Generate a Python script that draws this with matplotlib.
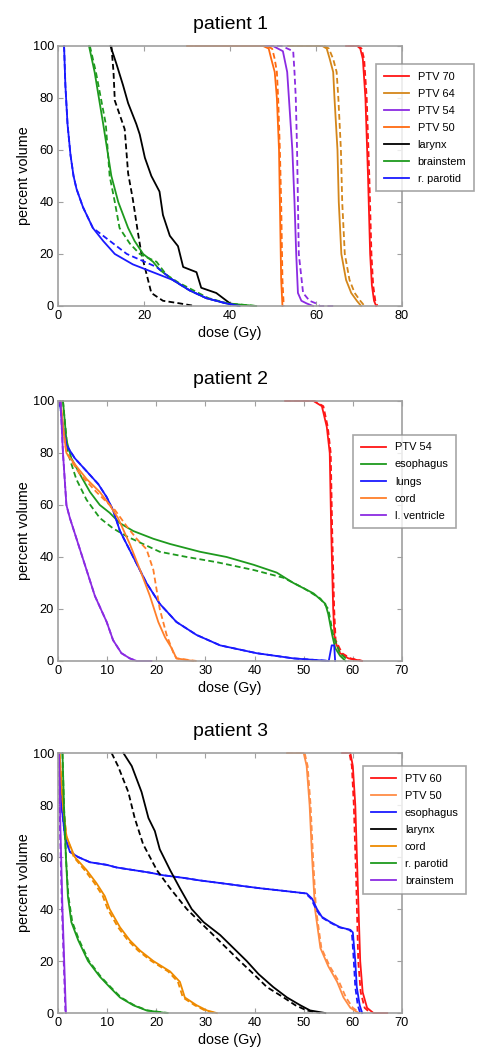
import matplotlib
matplotlib.use("Agg")
import matplotlib.pyplot as plt

plt.rcParams['font.family'] = ['Liberation Sans', 'DejaVu Sans']

# ---- patient 1 : [dose], [volume]  (solid = plan A, dashed = plan B)
p1_ptv70 = [[67.0, 69.6, 70.3, 70.9, 71.5, 72.1, 72.6, 73.0, 73.5, 74.0], [100, 100, 99, 95, 80, 50, 20, 8, 2, 0]]
p1_ptv70_b = [[67.5, 69.9, 70.6, 71.2, 71.8, 72.4, 72.9, 73.3, 73.8, 74.3], [100, 100, 99, 95, 80, 50, 20, 8, 2, 0]]
p1_ptv64 = [[53.5, 61.5, 62.5, 63.2, 64.0, 64.3, 65.0, 65.3, 65.9, 67.0, 68.2, 69.5, 70.5],
            [100, 100, 99, 95, 90, 80, 60, 40, 20, 10, 5, 2, 0]]
p1_ptv64_b = [[53.5, 62.0, 63.0, 64.0, 64.8, 65.2, 65.8, 66.1, 66.7, 67.8, 69.0, 70.3, 71.3],
              [100, 100, 99, 95, 90, 80, 60, 40, 20, 10, 5, 2, 0]]
p1_ptv54 = [[32.0, 50.0, 52.3, 53.3, 53.7, 54.5, 55.0, 55.4, 55.8, 56.6, 57.8, 59.3],
            [100, 100, 98, 90, 80, 60, 40, 20, 5, 2, 1, 0]]
p1_ptv54_b = [[32.0, 52.0, 54.7, 55.0, 55.3, 55.6, 55.8, 56.0, 57.0, 58.5, 60.0, 60.9, 64.0],
              [100, 100, 98, 90, 80, 60, 40, 20, 5, 2, 1, 0, 0]]
p1_ptv50 = [[30.0, 47.7, 49.0, 49.6, 50.4, 50.9, 51.4, 51.6, 51.9, 52.2],
            [100, 100, 99, 95, 90, 80, 60, 40, 10, 0]]
p1_ptv50_b = [[30.0, 48.5, 49.8, 50.4, 50.9, 51.2, 51.6, 51.9, 52.2, 52.5],
              [100, 100, 99, 95, 90, 80, 60, 40, 10, 0]]
p1_larynx = [[12.2, 13.6, 15.1, 16.3, 18.2, 19.0, 20.2, 21.7, 23.6, 24.4, 26.0, 27.9, 29.1, 32.2, 33.3, 36.8, 38.4, 40.0, 42.2],
             [100, 93, 85, 78, 70, 66, 57, 50, 44, 35, 27, 23, 15, 13, 7, 5, 3, 1, 0]]
p1_larynx_b = [[12.4, 12.9, 13.2, 15.5, 16.3, 17.4, 18.6, 19.4, 21.7, 24.4, 28.3, 31.8],
               [100, 90, 79, 68, 51, 41, 28, 20, 5, 2, 1, 0]]
p1_brainstem = [[7.2, 8.5, 10.5, 12.4, 14.0, 16.3, 17.8, 19.8, 22.1, 23.6, 26.7, 30.6, 34.5, 39.1, 46.1],
                [100, 90, 70, 50, 40, 30, 25, 20, 17, 14, 10, 6, 3, 1, 0]]
p1_brainstem_b = [[7.4, 8.8, 11.1, 12.0, 13.2, 14.3, 16.7, 19.0, 22.9, 25.2, 28.0, 31.5, 35.0, 39.5, 46.0],
                  [100, 90, 70, 50, 40, 30, 24, 20, 17, 12, 9, 6, 3, 1, 0]]
p1_parotid = [[1.4, 1.7, 2.2, 2.9, 3.6, 4.3, 5.8, 8.1, 10.5, 13.2, 17.4, 20.5, 23.6, 26.7, 30.6, 34.5, 39.1, 42.2],
              [100, 85, 70, 58, 50, 45, 38, 30, 25, 20, 16, 14, 12, 10, 6, 3, 1, 0]]
p1_parotid_b = [[1.4, 1.7, 2.2, 2.9, 3.6, 4.3, 5.8, 8.1, 9.7, 16.0, 22.9, 26.7, 30.6, 34.5, 39.1, 42.2],
                [100, 85, 70, 58, 50, 45, 38, 30, 28, 20, 15, 10, 6, 3, 1, 0]]

# ---- patient 2
p2_ptv54 = [[46.2, 52.0, 53.7, 54.7, 55.3, 55.6, 56.0, 56.3, 57.4, 59.1, 61.9], [100, 100, 98, 90, 80, 50, 20, 8, 3, 1, 0]]
p2_ptv54_b = [[46.2, 52.2, 54.0, 54.9, 55.5, 55.8, 56.2, 56.5, 57.8, 59.5, 62.0], [100, 100, 98, 90, 80, 50, 20, 8, 3, 1, 0]]
p2_esoph = [[1.0, 1.7, 2.7, 4.4, 6.5, 8.5, 10.5, 12.6, 15.3, 19.4, 22.8, 28.9, 34.3, 39.8, 44.5, 47.9, 52.0, 54.4, 55.0, 55.8, 56.4, 57.4, 58.5],
            [100, 85, 78, 72, 65, 60, 57, 53, 50, 47, 45, 42, 40, 37, 34, 30, 26, 22, 18, 10, 5, 2, 0]]
p2_esoph_b = [[1.0, 2.0, 3.7, 5.8, 8.5, 11.2, 13.9, 17.3, 20.7, 26.2, 32.3, 39.8, 45.9, 50.0, 53.4, 55.0, 56.0, 57.4, 59.1],
              [100, 80, 70, 62, 55, 51, 48, 45, 42, 40, 38, 35, 32, 28, 24, 20, 10, 3, 0]]
p2_lungs = [[0.3, 1.0, 1.7, 3.4, 5.8, 8.2, 9.9, 11.2, 12.6, 15.3, 18.0, 20.7, 24.1, 28.2, 33.0, 40.4, 47.9, 55.1, 55.7, 56.2, 56.4],
            [100, 90, 83, 78, 73, 68, 63, 58, 50, 40, 30, 22, 15, 10, 6, 3, 1, 0, 6, 6, 0]]
p2_lungs_b = [[0.3, 1.0, 1.7, 3.4, 5.8, 8.2, 9.9, 11.2, 12.6, 15.3, 18.0, 20.7, 24.1, 28.2, 33.0, 40.4, 47.9, 55.3],
              [100, 90, 83, 78, 73, 68, 63, 58, 50, 40, 30, 22, 15, 10, 6, 3, 1, 0]]
p2_cord = [[0.5, 1.0, 1.7, 3.7, 5.8, 8.5, 10.5, 12.2, 14.6, 16.7, 18.7, 20.4, 21.8, 23.1, 24.1, 27.5],
           [100, 90, 80, 75, 70, 65, 60, 55, 45, 35, 25, 15, 9, 5, 1, 0]]
p2_cord_b = [[0.5, 1.0, 1.7, 4.4, 7.8, 11.6, 13.9, 16.0, 18.0, 19.4, 20.7, 22.1, 23.5, 24.1, 28.2],
             [100, 90, 80, 72, 65, 58, 52, 47, 43, 35, 20, 10, 3, 1, 0]]
p2_lvent = [[0.5, 1.0, 1.7, 2.4, 4.1, 5.8, 7.5, 9.9, 11.2, 12.9, 14.6, 16.0, 19.0],
            [100, 80, 60, 55, 45, 35, 25, 15, 8, 3, 1, 0, 0]]
p2_lvent_b = [[0.5, 1.0, 1.7, 2.4, 4.1, 5.8, 7.5, 9.9, 11.2, 12.9, 14.6, 16.0],
              [100, 80, 60, 55, 45, 35, 25, 15, 8, 3, 1, 0]]

# ---- patient 3
p3_ptv60 = [[57.8, 59.5, 60.0, 60.5, 61.0, 61.5, 62.0, 62.9, 64.2, 67.0], [100, 100, 95, 80, 50, 20, 8, 2, 0, 0]]
p3_ptv60_b = [[57.8, 59.3, 59.8, 60.2, 60.7, 61.1, 61.6, 62.4, 63.6], [100, 100, 95, 80, 50, 20, 8, 2, 0]]
p3_ptv50 = [[46.6, 50.0, 50.6, 51.2, 51.7, 52.3, 53.4, 55.0, 56.8, 58.1, 59.5, 61.2],
            [100, 100, 95, 80, 60, 40, 25, 18, 12, 6, 2, 0]]
p3_ptv50_b = [[46.6, 50.2, 50.8, 51.4, 51.9, 52.5, 53.6, 55.3, 57.2, 58.6, 60.0, 61.5],
              [100, 100, 95, 80, 60, 40, 25, 18, 12, 6, 2, 0]]
p3_esoph = [[0.2, 0.7, 1.4, 2.4, 4.1, 6.5, 9.9, 11.9, 15.3, 18.7, 21.4, 25.5, 28.9, 33.0, 37.0, 41.1, 45.9, 50.6,
             51.7, 52.7, 53.7, 55.4, 57.4, 59.5, 60.0, 60.5, 60.8, 61.4, 61.9],
            [100, 80, 68, 62, 60, 58, 57, 56, 55, 54, 53, 52, 51, 50, 49, 48, 47, 46, 44, 40, 37, 35, 33, 32, 31, 20, 10, 3, 0]]
p3_esoph_b = [[0.2, 0.7, 1.4, 2.4, 4.1, 6.5, 9.9, 11.9, 15.3, 18.7, 21.4, 25.5, 28.9, 33.0, 37.0, 41.1, 45.9, 50.4,
               51.5, 52.5, 53.5, 55.2, 57.2, 59.3, 59.8, 60.2, 60.5, 61.0, 61.5],
              [100, 80, 68, 62, 60, 58, 57, 56, 55, 54, 53, 52, 51, 50, 49, 48, 47, 46, 44, 40, 37, 35, 33, 32, 31, 20, 10, 3, 0]]
p3_larynx = [[13.3, 15.0, 17.0, 18.4, 19.7, 20.7, 22.8, 24.8, 27.2, 29.6, 33.0, 35.7, 38.4, 40.8, 43.8, 46.6, 49.3, 51.3, 54.4],
             [100, 95, 85, 75, 70, 63, 55, 48, 40, 35, 30, 25, 20, 15, 10, 6, 3, 1, 0]]
p3_larynx_b = [[10.9, 12.2, 14.3, 15.6, 17.3, 20.1, 22.8, 26.2, 28.9, 31.6, 34.3, 37.0, 39.8, 42.5, 45.9, 48.3, 50.6, 53.4],
               [100, 95, 85, 75, 65, 55, 48, 40, 35, 30, 25, 20, 15, 10, 6, 3, 1, 0]]
p3_cord = [[0.3, 1.0, 1.7, 3.4, 5.8, 7.8, 9.5, 10.5, 12.6, 14.6, 16.7, 19.4, 22.8, 24.8, 25.8, 28.2, 30.3, 32.3],
           [100, 80, 68, 60, 55, 50, 45, 40, 33, 28, 24, 20, 16, 12, 6, 3, 1, 0]]
p3_cord_b = [[0.3, 1.0, 1.7, 3.2, 5.4, 7.4, 9.1, 10.1, 12.2, 14.2, 16.3, 19.0, 22.4, 24.4, 25.4, 27.8, 29.9, 31.9],
             [100, 80, 68, 60, 55, 50, 45, 40, 33, 28, 24, 20, 16, 12, 6, 3, 1, 0]]
p3_parotid = [[0.9, 1.2, 1.6, 2.0, 2.7, 4.1, 6.1, 8.5, 10.5, 12.6, 15.3, 18.0, 22.1],
              [100, 80, 60, 45, 35, 28, 20, 14, 10, 6, 3, 1, 0]]
p3_parotid_b = [[0.9, 1.2, 1.6, 2.1, 2.9, 4.3, 6.3, 8.7, 10.7, 12.8, 15.5, 18.2, 22.5],
                [100, 80, 60, 45, 35, 28, 20, 14, 10, 6, 3, 1, 0]]
p3_brainstem = [[0.2, 0.5, 0.9, 1.6], [100, 70, 40, 0]]
p3_brainstem_b = [[0.1, 0.4, 0.8, 1.5], [100, 70, 40, 0]]

RED = '#FF1515'
BROWN = '#D4861A'
PURPLE = '#8B2BE2'
ORANGE = '#FF6A10'
GREEN = '#1E9A1E'
BLUE = '#1A1AFF'
LORANGE = '#FF8C45'
DORANGE = '#EE8A00'
GREY = '#A0A0A0'

panels = [
    ("patient 1", 80, [0, 20, 40, 60, 80], 0.7086, (0.924, 0.931), [
        ("PTV 70", RED, p1_ptv70, p1_ptv70_b),
        ("PTV 64", BROWN, p1_ptv64, p1_ptv64_b),
        ("PTV 54", PURPLE, p1_ptv54, p1_ptv54_b),
        ("PTV 50", ORANGE, p1_ptv50, p1_ptv50_b),
        ("larynx", 'black', p1_larynx, p1_larynx_b),
        ("brainstem", GREEN, p1_brainstem, p1_brainstem_b),
        ("r. parotid", BLUE, p1_parotid, p1_parotid_b)]),
    ("patient 2", 70, [0, 10, 20, 30, 40, 50, 60, 70], 0.3705, (0.858, 0.870), [
        ("PTV 54", RED, p2_ptv54, p2_ptv54_b),
        ("esophagus", GREEN, p2_esoph, p2_esoph_b),
        ("lungs", BLUE, p2_lungs, p2_lungs_b),
        ("cord", '#FF7F2A', p2_cord, p2_cord_b),
        ("l. ventricle", PURPLE, p2_lvent, p2_lvent_b)]),
    ("patient 3", 70, [0, 10, 20, 30, 40, 50, 60, 70], 0.0352, (0.887, 0.95), [
        ("PTV 60", RED, p3_ptv60, p3_ptv60_b),
        ("PTV 50", LORANGE, p3_ptv50, p3_ptv50_b),
        ("esophagus", BLUE, p3_esoph, p3_esoph_b),
        ("larynx", 'black', p3_larynx, p3_larynx_b),
        ("cord", DORANGE, p3_cord, p3_cord_b),
        ("r. parotid", GREEN, p3_parotid, p3_parotid_b),
        ("brainstem", PURPLE, p3_brainstem, p3_brainstem_b)]),
]

fig = plt.figure(figsize=(4.92, 10.5), dpi=100)

for title, xmax, xticks, bottom, legpos, curves in panels:
    ax = fig.add_axes([0.118, bottom, 0.699, 0.2476])
    handles = []
    for name, col, a, b in curves:
        h, = ax.plot(a[0], a[1], color=col, lw=1.3, label=name, clip_on=False)
        ax.plot(b[0], b[1], color=col, lw=1.3, ls=(0, (3.2, 1.8)), clip_on=False)
        handles.append(h)
    ax.set_xlim(0, xmax)
    ax.set_ylim(0, 100)
    ax.set_xticks(xticks)
    ax.set_yticks([0, 20, 40, 60, 80, 100])
    ax.tick_params(direction='in', length=3.5, width=0.8, color=GREY, labelsize=9.2,
                   top=True, right=True, pad=3)
    for s in ax.spines.values():
        s.set_color(GREY)
        s.set_linewidth(1.2)
    ax.set_xlabel("dose (Gy)", fontsize=10.4, labelpad=3)
    ax.set_ylabel("percent volume", fontsize=10.4, labelpad=1)
    ax.set_title(title, fontsize=14, pad=12)
    leg = ax.legend(handles=handles, loc='upper left', bbox_to_anchor=legpos,
                    fontsize=7.9, frameon=True, fancybox=False, handlelength=2.3,
                    handletextpad=0.8, labelspacing=0.64, borderpad=0.7, borderaxespad=0)
    leg.get_frame().set_edgecolor('#909090')
    leg.get_frame().set_linewidth(1.2)
    leg.set_zorder(5)

fig.savefig("out.png", dpi=100)
